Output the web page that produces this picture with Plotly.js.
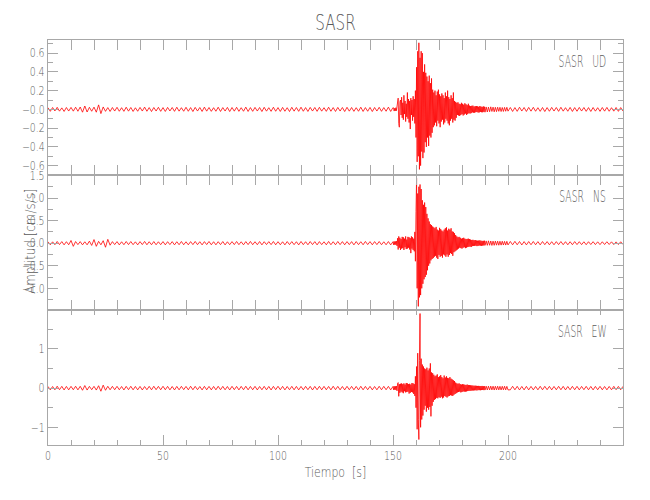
<!DOCTYPE html>
<html>
<head>
<meta charset="utf-8">
<script src="https://cdn.plot.ly/plotly-3.0.1.min.js"></script>
<style>html,body{margin:0;padding:0;background:#fff;}#chart{width:650px;height:500px;}</style>
</head>
<body>
<div id="chart"></div>
<script>
// ---- sampling grid (seconds) ----
const preStart = 0, preEnd = 150, preStep = 1;
const evtStart = 150.25, evtEnd = 190, evtStep = 0.25;
const tailStart = 190.5, tailEnd = 200, tailStep = 0.5;
const postStart = 201, postEnd = 250, postStep = 1;

// ---- UD component (cm/s/s) ----
const udPre = [
0.018,-0.021,0.020,-0.017,0.022,-0.019,0.016,-0.022,0.020,-0.018,
0.021,-0.019,0.023,-0.020,0.025,-0.030,0.036,-0.028,0.022,-0.020,
0.024,-0.030,0.048,-0.045,0.026,-0.021,0.019,-0.022,0.020,-0.018,
0.022,-0.020,0.018,-0.021,0.023,-0.019,0.020,-0.022,0.017,-0.020,
0.021,-0.018,0.024,-0.020,0.019,-0.023,0.020,-0.018,0.022,-0.021,
0.019,-0.022,0.021,-0.017,0.020,-0.021,0.023,-0.019,0.018,-0.020,
0.022,-0.020,0.019,-0.023,0.021,-0.018,0.020,-0.022,0.024,-0.019,
0.020,-0.021,0.018,-0.020,0.023,-0.022,0.019,-0.018,0.021,-0.023,
0.020,-0.019,0.022,-0.021,0.018,-0.020,0.024,-0.022,0.019,-0.021,
0.021,-0.018,0.020,-0.023,0.022,-0.019,0.018,-0.021,0.023,-0.020,
0.019,-0.022,0.021,-0.020,0.018,-0.023,0.022,-0.019,0.020,-0.021,
0.023,-0.020,0.019,-0.022,0.021,-0.018,0.020,-0.021,0.022,-0.019,
0.018,-0.021,0.023,-0.020,0.019,-0.022,0.021,-0.018,0.020,-0.023,
0.022,-0.019,0.020,-0.021,0.018,-0.020,0.023,-0.022,0.019,-0.020,
0.021,-0.023,0.020,-0.018,0.022,-0.021,0.019,-0.020,0.024,-0.022,
0.020];
const udEvt = [
0.015,-0.018,0.012,-0.016, 0.018,-0.014,0.020,0.060,
0.120,-0.150,-0.190,0.080, 0.100,-0.060,0.130,-0.090,
0.070,-0.110,0.150,-0.050, 0.090,-0.130,0.060,-0.080,
0.180,-0.100,0.110,-0.140, 0.090,-0.210,0.120,-0.060,
0.100,-0.120,0.140,-0.080, 0.110,-0.150,0.200,-0.300,
0.450,-0.560,0.620,-0.500, 0.710,-0.640,0.550,-0.600,
0.620,-0.450,0.600,-0.520, 0.400,-0.460,0.480,-0.350,
0.390,-0.400,0.350,-0.300, 0.300,-0.390,0.360,-0.280,
0.280,-0.300,0.330,-0.250, 0.210,-0.190,0.180,-0.170,
0.200,-0.140,0.150,-0.180, 0.190,-0.120,0.210,-0.150,
0.160,-0.190,0.140,-0.130, 0.170,-0.110,0.150,-0.160,
0.120,-0.140,0.180,-0.100, 0.140,-0.120,0.200,-0.150,
0.130,-0.170,0.110,-0.120, 0.150,-0.100,0.120,-0.140,
0.180,-0.110,0.090,-0.120, 0.080,-0.090,0.070,-0.060,
0.075,-0.065,0.060,-0.070, 0.055,-0.060,0.070,-0.050,
0.060,-0.065,0.050,-0.055, 0.065,-0.045,0.055,-0.060,
0.045,-0.050,0.060,-0.040, 0.040,-0.045,0.035,-0.040,
0.038,-0.032,0.040,-0.035, 0.030,-0.036,0.034,-0.030,
0.036,-0.028,0.032,-0.034, 0.028,-0.032,0.035,-0.027,
0.030,-0.030,0.026,-0.031, 0.032,-0.026,0.028,-0.030];
const udTail = [
0.026,-0.028,0.024,-0.025,0.027,-0.022,0.024,-0.026,0.022,-0.024,
0.023,-0.021,0.022,-0.023,0.020,-0.022,0.021,-0.020,0.022,-0.019];
const udPost = [
0.020,-0.022,0.019,-0.021,0.023,-0.018,0.020,-0.022,0.021,-0.019,
0.022,-0.020,0.018,-0.021,0.020,-0.023,0.019,-0.020,0.021,-0.018,
0.020,-0.021,0.022,-0.019,0.018,-0.020,0.021,-0.022,0.019,-0.020,
0.021,-0.018,0.020,-0.021,0.019,-0.022,0.020,-0.019,0.018,-0.021,
0.020,-0.019,0.021,-0.020,0.018,-0.019,0.020,-0.021,0.019,-0.018];

// ---- NS component ----
const nsPre = [
0.032,-0.036,0.030,-0.034,0.038,-0.031,0.035,-0.037,0.033,-0.035,
0.060,-0.070,0.036,-0.032,0.034,-0.037,0.031,-0.036,0.045,-0.050,
0.080,-0.070,0.040,-0.036,0.055,-0.090,0.085,-0.045,0.034,-0.032,
0.035,-0.038,0.031,-0.034,0.037,-0.032,0.036,-0.033,0.030,-0.037,
0.034,-0.031,0.038,-0.035,0.032,-0.034,0.036,-0.035,0.031,-0.033,
0.035,-0.037,0.033,-0.031,0.034,-0.038,0.032,-0.034,0.037,-0.035,
0.031,-0.036,0.034,-0.032,0.038,-0.033,0.032,-0.037,0.034,-0.031,
0.037,-0.035,0.032,-0.036,0.033,-0.032,0.036,-0.038,0.031,-0.034,
0.034,-0.032,0.037,-0.033,0.031,-0.036,0.035,-0.032,0.038,-0.034,
0.032,-0.034,0.036,-0.037,0.033,-0.031,0.034,-0.032,0.037,-0.036,
0.033,-0.035,0.031,-0.037,0.036,-0.032,0.035,-0.033,0.032,-0.038,
0.037,-0.033,0.032,-0.035,0.036,-0.031,0.034,-0.037,0.035,-0.032,
0.031,-0.036,0.038,-0.034,0.032,-0.035,0.037,-0.032,0.034,-0.036,
0.035,-0.032,0.034,-0.037,0.036,-0.033,0.032,-0.035,0.038,-0.031,
0.034,-0.036,0.035,-0.032,0.037,-0.034,0.031,-0.035,0.036,-0.038,
0.033];
const nsEvt = [
-0.035,0.038,-0.034,0.040, -0.036,0.045,-0.060,0.110,
-0.140,0.150,-0.100,0.120, -0.150,0.090,-0.120,0.140,
-0.110,0.130,-0.150,0.100, -0.090,0.150,-0.130,0.080,
-0.120,0.140,-0.100,0.130, -0.140,0.110,-0.220,0.150,
-0.120,0.130,-0.150,0.100, -0.180,0.250,-0.400,0.700,
1.440,-1.000,1.100,-1.400, 1.250,-1.200,1.300,-1.150,
1.200,-1.000,0.950,-0.900, 0.850,-0.800,0.900,-0.750,
0.800,-0.700,0.650,-0.600, 0.550,-0.500,0.480,-0.450,
0.420,-0.380,0.400,-0.350, 0.370,-0.330,0.350,-0.300,
0.330,-0.280,0.360,-0.320, 0.300,-0.350,0.280,-0.260,
0.340,-0.300,0.310,-0.280, 0.280,-0.320,0.260,-0.250,
0.300,-0.270,0.330,-0.300, 0.350,-0.250,0.280,-0.300,
0.320,-0.260,0.300,-0.220, 0.330,-0.240,0.260,-0.280,
0.250,-0.200,0.220,-0.180, 0.180,-0.160,0.150,-0.140,
0.130,-0.120,0.140,-0.100, 0.120,-0.110,0.100,-0.120,
0.110,-0.100,0.120,-0.090, 0.100,-0.110,0.090,-0.100,
0.095,-0.085,0.100,-0.080, 0.090,-0.075,0.080,-0.085,
0.070,-0.065,0.075,-0.060, 0.065,-0.060,0.070,-0.055,
0.060,-0.065,0.055,-0.060, 0.058,-0.052,0.062,-0.055,
0.055,-0.058,0.050,-0.054, 0.052,-0.050,0.055,-0.048];
const nsTail = [
0.050,-0.048,0.052,-0.046,0.048,-0.050,0.045,-0.047,0.046,-0.044,
0.044,-0.045,0.042,-0.043,0.043,-0.041,0.040,-0.042,0.041,-0.039];
const nsPost = [
0.038,-0.036,0.040,-0.035,0.037,-0.039,0.035,-0.038,0.036,-0.034,
0.037,-0.035,0.034,-0.037,0.036,-0.033,0.035,-0.036,0.033,-0.035,
0.034,-0.032,0.036,-0.034,0.033,-0.035,0.032,-0.034,0.035,-0.031,
0.033,-0.032,0.031,-0.034,0.032,-0.030,0.033,-0.031,0.030,-0.032,
0.031,-0.030,0.032,-0.029,0.030,-0.031,0.029,-0.030,0.031,-0.029];

// ---- EW component ----
const ewPre = [
0.042,-0.046,0.040,-0.044,0.048,-0.041,0.045,-0.047,0.043,-0.045,
0.044,-0.042,0.047,-0.045,0.046,-0.055,0.065,-0.050,0.044,-0.041,
0.045,-0.050,0.060,-0.080,0.075,-0.055,0.046,-0.043,0.045,-0.042,
0.045,-0.043,0.041,-0.047,0.044,-0.040,0.046,-0.044,0.042,-0.045,
0.043,-0.047,0.040,-0.042,0.045,-0.044,0.047,-0.041,0.044,-0.043,
0.046,-0.042,0.044,-0.045,0.041,-0.047,0.043,-0.044,0.045,-0.040,
0.042,-0.044,0.047,-0.043,0.044,-0.041,0.040,-0.046,0.045,-0.044,
0.043,-0.045,0.042,-0.044,0.046,-0.042,0.044,-0.043,0.041,-0.047,
0.045,-0.041,0.043,-0.046,0.044,-0.042,0.047,-0.044,0.042,-0.043,
0.044,-0.046,0.041,-0.043,0.045,-0.044,0.042,-0.047,0.044,-0.041,
0.046,-0.043,0.044,-0.045,0.041,-0.042,0.045,-0.044,0.043,-0.046,
0.042,-0.044,0.045,-0.041,0.044,-0.047,0.043,-0.042,0.046,-0.044,
0.044,-0.043,0.042,-0.045,0.047,-0.041,0.044,-0.044,0.041,-0.046,
0.045,-0.042,0.044,-0.043,0.042,-0.045,0.046,-0.044,0.043,-0.042,
0.044,-0.045,0.041,-0.044,0.046,-0.043,0.045,-0.042,0.044,-0.046,
0.043];
const ewEvt = [
-0.044,0.046,-0.042,0.048, -0.045,0.050,-0.070,0.120,
0.140,-0.210,0.100,-0.120, 0.110,-0.090,0.120,-0.110,
0.100,-0.130,0.120,-0.080, 0.090,-0.110,0.130,-0.100,
0.120,-0.090,0.100,-0.140, 0.110,-0.120,0.090,-0.100,
0.130,-0.110,0.120,-0.150, 0.100,-0.200,0.300,-0.500,
0.550,-1.050,0.890,-0.800, -1.310,0.700,1.900,-1.000,
0.750,-0.800,0.600,-0.700, 0.550,-0.550,0.500,-0.450,
0.480,-0.600,0.520,-0.500, 0.450,-0.550,0.500,-0.480,
0.630,-0.720,0.400,-0.450, 0.380,-0.350,0.340,-0.300,
0.300,-0.280,0.320,-0.250, 0.350,-0.260,0.280,-0.230,
0.300,-0.250,0.330,-0.220, 0.280,-0.260,0.250,-0.240,
0.320,-0.200,0.270,-0.220, 0.300,-0.240,0.260,-0.210,
0.250,-0.200,0.280,-0.180, 0.240,-0.190,0.220,-0.200,
0.200,-0.170,0.180,-0.150, 0.140,-0.130,0.120,-0.110,
0.110,-0.100,0.120,-0.090, 0.100,-0.110,0.090,-0.100,
0.100,-0.085,0.095,-0.090, 0.085,-0.090,0.080,-0.085,
0.090,-0.075,0.080,-0.070, 0.075,-0.070,0.072,-0.065,
0.068,-0.062,0.065,-0.060, 0.060,-0.058,0.062,-0.055,
0.058,-0.060,0.055,-0.052, 0.056,-0.052,0.054,-0.055,
0.052,-0.050,0.055,-0.048, 0.050,-0.052,0.048,-0.050];
const ewTail = [
0.050,-0.048,0.049,-0.047,0.050,-0.046,0.048,-0.049,0.047,-0.045,
0.048,-0.046,0.045,-0.047,0.046,-0.044,0.047,-0.045,0.044,-0.046];
const ewPost = [
-0.044,0.046,-0.043,0.045,-0.047,0.042,-0.045,0.044,-0.046,0.043,
-0.045,0.042,-0.044,0.046,-0.043,0.045,-0.041,0.044,-0.045,0.042,
-0.043,0.045,-0.042,0.044,-0.046,0.041,-0.043,0.045,-0.042,0.044,
-0.045,0.043,-0.041,0.044,-0.043,0.042,-0.045,0.043,-0.042,0.044,
-0.043,0.041,-0.044,0.042,-0.043,0.045,-0.041,0.043,-0.042,0.044];

// ---- labels / ticks ----
const chartTitle = 'SASR';
const xTitle = 'Tiempo\u00a0\u00a0[s]';
const yTitle = 'Amplitud [cm/s/s]';
const panelLabels = ['SASR\u00a0\u00a0\u00a0UD', 'SASR\u00a0\u00a0\u00a0NS', 'SASR\u00a0\u00a0\u00a0EW'];
const xTicks = [0, 50, 100, 150, 200];
const udTickVals = [0.6, 0.4, 0.2, 0, -0.2, -0.4, -0.6];
const udTickText = ['0.6', '0.4', '0.2', '\u22120.0', '\u22120.2', '\u22120.4', '\u22120.6'];
const nsTickVals = [1.5, 1.0, 0.5, 0, -0.5, -1.0];
const nsTickText = ['1.5', '1.0', '0.5', '0.0', '\u22120.5', '\u22121.0'];
const ewTickVals = [1, 0, -1];
const ewTickText = ['1', '0', '\u22121'];

function grid(a, b, s) { const out = []; for (let v = a; v <= b + 1e-9; v += s) out.push(+v.toFixed(3)); return out; }
const t = grid(preStart, preEnd, preStep).concat(grid(evtStart, evtEnd, evtStep), grid(tailStart, tailEnd, tailStep), grid(postStart, postEnd, postStep));
const ud = udPre.concat(udEvt, udTail, udPost);
const ns = nsPre.concat(nsEvt, nsTail, nsPost);
const ew = ewPre.concat(ewEvt, ewTail, ewPost);

const FONT = "'DejaVu Sans', sans-serif";
const W = 200;
const TXT = '#5a5a5a';
const AX = '#a8a8a8';
const traceColor = '#ff0000';

function yax(domain, range, vals, text, minorDt) {
  return {
    domain: domain, range: range, tickmode: 'array', tickvals: vals, ticktext: text,
    ticks: 'inside', ticklen: 10, tickcolor: AX, tickwidth: 1,
    showline: true, linecolor: AX, linewidth: 1, mirror: 'ticks',
    showgrid: false, zeroline: false, tickfont: {size: 12, color: TXT, family: FONT, weight: W},
    minor: {tickmode: 'linear', tick0: 0, dtick: minorDt, ticks: 'inside', ticklen: 5, tickcolor: AX, showgrid: false}
  };
}

const traces = [
  {x: t, y: ud, xaxis: 'x', yaxis: 'y3', type: 'scatter', mode: 'lines', line: {color: traceColor, width: 0.8}, hoverinfo: 'skip'},
  {x: t, y: ns, xaxis: 'x', yaxis: 'y2', type: 'scatter', mode: 'lines', line: {color: traceColor, width: 0.8}, hoverinfo: 'skip'},
  {x: t, y: ew, xaxis: 'x', yaxis: 'y', type: 'scatter', mode: 'lines', line: {color: traceColor, width: 0.8}, hoverinfo: 'skip'}
];

const annFont = {size: 15, color: TXT, family: FONT, weight: W};
const layout = {
  width: 650, height: 500,
  margin: {l: 48, r: 27, t: 40, b: 55},
  paper_bgcolor: '#ffffff', plot_bgcolor: '#ffffff',
  showlegend: false,
  font: {family: FONT, color: TXT, size: 12, weight: W},
  title: {text: chartTitle, font: {size: 21, color: TXT, family: FONT, weight: W}, x: 0.5, xref: 'paper', xanchor: 'center', y: 0.955, yanchor: 'middle'},
  xaxis: {
    range: [0, 250], anchor: 'y', tickmode: 'array', tickvals: xTicks,
    ticks: 'inside', ticklen: 10, tickcolor: AX, tickwidth: 1,
    showline: true, linecolor: AX, linewidth: 1, mirror: 'allticks',
    showgrid: false, zeroline: false, tickfont: {size: 12, color: TXT, family: FONT, weight: W},
    minor: {tickmode: 'linear', tick0: 0, dtick: 10, ticks: 'inside', ticklen: 5, tickcolor: AX, showgrid: false}
  },
  yaxis: yax([0, 1/3], [-1.45, 1.99], ewTickVals, ewTickText, 0.5),
  yaxis2: yax([1/3, 2/3], [-1.48, 1.51], nsTickVals, nsTickText, 0.25),
  yaxis3: yax([2/3, 1], [-0.70, 0.74], udTickVals, udTickText, 0.1),
  annotations: [
    {text: panelLabels[0], xref: 'paper', yref: 'y3 domain', x: 0.929, y: 0.84, xanchor: 'center', yanchor: 'middle', showarrow: false, font: annFont},
    {text: panelLabels[1], xref: 'paper', yref: 'y2 domain', x: 0.929, y: 0.84, xanchor: 'center', yanchor: 'middle', showarrow: false, font: annFont},
    {text: panelLabels[2], xref: 'paper', yref: 'y domain', x: 0.929, y: 0.84, xanchor: 'center', yanchor: 'middle', showarrow: false, font: annFont},
    {text: xTitle, xref: 'paper', yref: 'paper', x: 0.5, y: -0.067, xanchor: 'center', yanchor: 'middle', showarrow: false, font: {size: 14, color: TXT, family: FONT, weight: W}},
    {text: yTitle, xref: 'paper', yref: 'paper', x: -0.031, y: 0.504, xanchor: 'center', yanchor: 'middle', textangle: -90, showarrow: false, font: {size: 14, color: TXT, family: FONT, weight: W}}
  ]
};

// narrow the glyphs horizontally (the reference uses a very condensed stroke font)
function narrow(sel, f) {
  document.querySelectorAll(sel).forEach(function (el) {
    const w = el.getComputedTextLength();
    if (w > 0) { el.setAttribute('lengthAdjust', 'spacingAndGlyphs'); el.setAttribute('textLength', (w * f).toFixed(1)); }
  });
}

Plotly.newPlot('chart', traces, layout, {staticPlot: true, displayModeBar: false}).then(function () {
  narrow('#chart text.gtitle', 0.72);
  const anns = document.querySelectorAll('#chart text.annotation-text');
  anns.forEach(function (el, i) {
    const w = el.getComputedTextLength();
    const f = i < 3 ? 0.62 : (i === 4 ? 0.85 : 0.78);
    el.setAttribute('lengthAdjust', 'spacingAndGlyphs'); el.setAttribute('textLength', (w * f).toFixed(1));
  });
  narrow('#chart g.xtick text, #chart g.ytick text, #chart g.y2tick text, #chart g.y3tick text', 0.78);
});
</script>
</body>
</html>
